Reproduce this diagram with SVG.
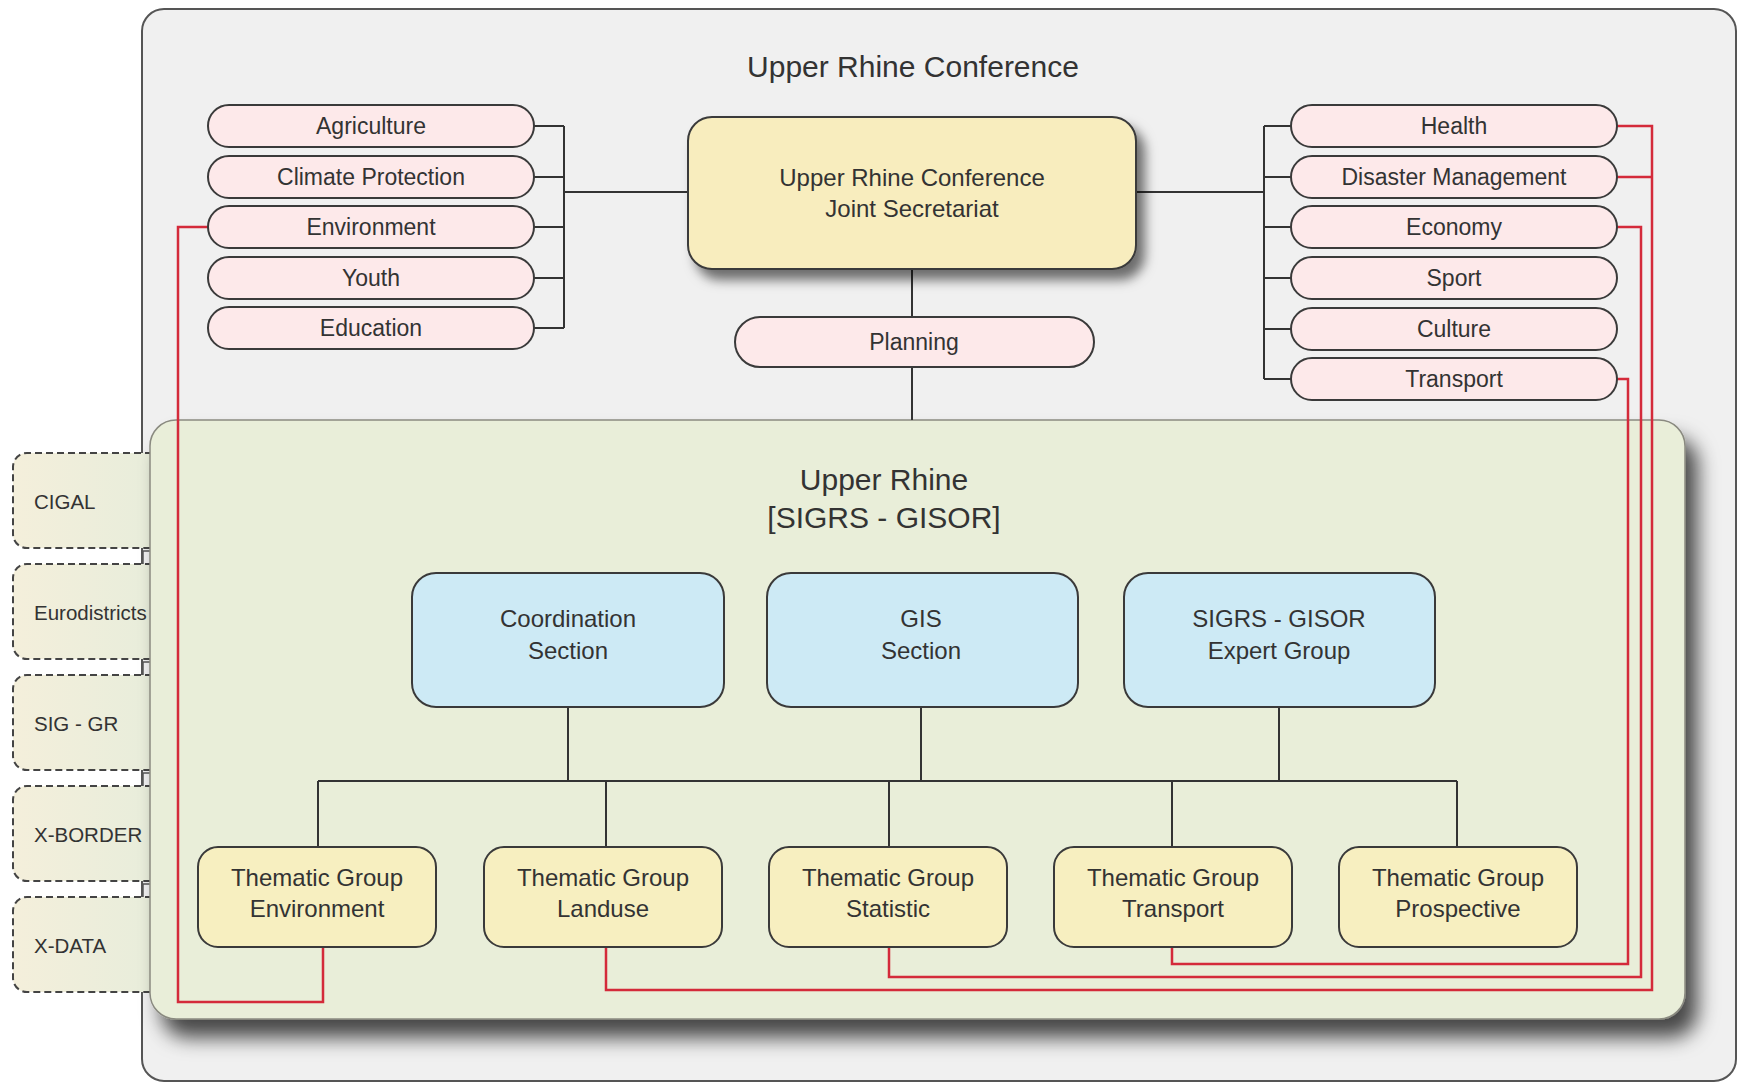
<svg xmlns="http://www.w3.org/2000/svg" width="1740" height="1084" viewBox="0 0 1740 1084">
<defs>
<style>
text{font-family:"Liberation Sans",Arial,sans-serif;fill:#333;text-anchor:middle}
.pill{fill:#fde9ea;stroke:#3a3a3a;stroke-width:2}
.blue{fill:#cdeaf5;stroke:#3a3a3a;stroke-width:2}
.tg{fill:#f7efc0;stroke:#3a3a3a;stroke-width:2}
.dash{stroke:#444;stroke-width:2;stroke-dasharray:7,4}
.ln{fill:none;stroke:#333;stroke-width:2}
.red{fill:none;stroke:#d42a3a;stroke-width:2.5}
.t23{font-size:23px}
.t24{font-size:24px}
.t31{font-size:30px}
.small{font-size:20.5px;text-anchor:start}
</style>
<linearGradient id="dg" x1="0" y1="0" x2="1" y2="0">
<stop offset="0" stop-color="#f4efdb"/>
<stop offset="1" stop-color="#e8eddb"/>
</linearGradient>
<filter id="sh" x="-10%" y="-10%" width="130%" height="140%">
<feDropShadow dx="8" dy="10" stdDeviation="6" flood-color="#000" flood-opacity="0.55"/>
</filter>
<filter id="sh2" x="-5%" y="-5%" width="115%" height="125%">
<feDropShadow dx="12" dy="18" stdDeviation="10" flood-color="#000" flood-opacity="0.7"/>
</filter>
</defs>

<g id="outer">
<rect x="142" y="9" width="1594" height="1072" rx="22" fill="#f0f0f0" stroke="#555" stroke-width="2"/>
<text class="t31" x="913" y="77">Upper Rhine Conference</text>
</g>

<g id="side-boxes">
<g id="cigal"><path class="dash" fill="url(#dg)" d="M152,453 H27 A14,14 0 0 0 13,467 V534 A14,14 0 0 0 27,548 H152"/><text class="small" x="34" y="509">CIGAL</text></g>
<g id="eurodistricts"><path class="dash" fill="url(#dg)" d="M152,564 H27 A14,14 0 0 0 13,578 V645 A14,14 0 0 0 27,659 H152"/><text class="small" x="34" y="620">Eurodistricts</text></g>
<g id="siggr"><path class="dash" fill="url(#dg)" d="M152,675 H27 A14,14 0 0 0 13,689 V756 A14,14 0 0 0 27,770 H152"/><text class="small" x="34" y="731">SIG - GR</text></g>
<g id="xborder"><path class="dash" fill="url(#dg)" d="M152,786 H27 A14,14 0 0 0 13,800 V867 A14,14 0 0 0 27,881 H152"/><text class="small" x="34" y="842">X-BORDER</text></g>
<g id="xdata"><path class="dash" fill="url(#dg)" d="M152,897 H27 A14,14 0 0 0 13,911 V978 A14,14 0 0 0 27,992 H152"/><text class="small" x="34" y="953">X-DATA</text></g>
<path fill="none" stroke="#555" stroke-width="1.5" d="M151,564 V551 H143 V564 M151,675 V662 H143 V675 M151,786 V773 H143 V786 M151,897 V884 H143 V897"/>
</g>

<g id="green-box">
<rect x="150" y="420" width="1535" height="599" rx="26" fill="#e9eed9" stroke="#8a8a80" stroke-width="1.5" filter="url(#sh2)"/>
<text class="t31" x="884" y="490">Upper Rhine</text>
<text class="t31" x="884" y="528">[SIGRS - GISOR]</text>
</g>

<g id="connectors">
<path class="ln" d="M534,126 H564 M534,177 H564 M534,227 H564 M534,278 H564 M534,328 H564 M564,126 V328 M564,192 H688"/>
<path class="ln" d="M1136,192 H1264 M1264,126 V379 M1264,126 H1291 M1264,177 H1291 M1264,227 H1291 M1264,278 H1291 M1264,329 H1291 M1264,379 H1291"/>
<path class="ln" d="M912,269 V317 M912,367 V420"/>
<path class="ln" d="M568,707 V781 M921,707 V781 M1279,707 V781 M318,781 H1457 M318,781 V847 M606,781 V847 M889,781 V847 M1172,781 V847 M1457,781 V847"/>
<path class="red" d="M208,227 H178 V1002 H323 V947"/>
<path class="red" d="M606,947 V990 H1652 V126 H1617 M1652,177 H1617"/>
<path class="red" d="M889,947 V977 H1641 V227 H1617"/>
<path class="red" d="M1172,947 V964 H1628 V379 H1617"/>
</g>

<g id="secretariat">
<rect x="688" y="117" width="448" height="152" rx="24" fill="#f8edbe" stroke="#3a3a3a" stroke-width="2" filter="url(#sh)"/>
<text class="t24" x="912" y="186">Upper Rhine Conference</text>
<text class="t24" x="912" y="217">Joint Secretariat</text>
</g>

<g id="planning"><rect class="pill" x="735" y="317" width="359" height="50" rx="25"/><text class="t23" x="914" y="350">Planning</text></g>

<g id="agriculture"><rect class="pill" x="208" y="105" width="326" height="42" rx="21"/><text class="t23" x="371" y="134">Agriculture</text></g>
<g id="climate"><rect class="pill" x="208" y="156" width="326" height="42" rx="21"/><text class="t23" x="371" y="185">Climate Protection</text></g>
<g id="environment"><rect class="pill" x="208" y="206" width="326" height="42" rx="21"/><text class="t23" x="371" y="235">Environment</text></g>
<g id="youth"><rect class="pill" x="208" y="257" width="326" height="42" rx="21"/><text class="t23" x="371" y="286">Youth</text></g>
<g id="education"><rect class="pill" x="208" y="307" width="326" height="42" rx="21"/><text class="t23" x="371" y="336">Education</text></g>

<g id="health"><rect class="pill" x="1291" y="105" width="326" height="42" rx="21"/><text class="t23" x="1454" y="134">Health</text></g>
<g id="disaster"><rect class="pill" x="1291" y="156" width="326" height="42" rx="21"/><text class="t23" x="1454" y="185">Disaster Management</text></g>
<g id="economy"><rect class="pill" x="1291" y="206" width="326" height="42" rx="21"/><text class="t23" x="1454" y="235">Economy</text></g>
<g id="sport"><rect class="pill" x="1291" y="257" width="326" height="42" rx="21"/><text class="t23" x="1454" y="286">Sport</text></g>
<g id="culture"><rect class="pill" x="1291" y="308" width="326" height="42" rx="21"/><text class="t23" x="1454" y="337">Culture</text></g>
<g id="transport"><rect class="pill" x="1291" y="358" width="326" height="42" rx="21"/><text class="t23" x="1454" y="387">Transport</text></g>

<g id="coordination"><rect class="blue" x="412" y="573" width="312" height="134" rx="24"/><text class="t24" x="568" y="627">Coordination</text><text class="t24" x="568" y="659">Section</text></g>
<g id="gis"><rect class="blue" x="767" y="573" width="311" height="134" rx="24"/><text class="t24" x="921" y="627">GIS</text><text class="t24" x="921" y="659">Section</text></g>
<g id="expert"><rect class="blue" x="1124" y="573" width="311" height="134" rx="24"/><text class="t24" x="1279" y="627">SIGRS - GISOR</text><text class="t24" x="1279" y="659">Expert Group</text></g>

<g id="tg-environment"><rect class="tg" x="198" y="847" width="238" height="100" rx="20"/><text class="t24" x="317" y="886">Thematic Group</text><text class="t24" x="317" y="917">Environment</text></g>
<g id="tg-landuse"><rect class="tg" x="484" y="847" width="238" height="100" rx="20"/><text class="t24" x="603" y="886">Thematic Group</text><text class="t24" x="603" y="917">Landuse</text></g>
<g id="tg-statistic"><rect class="tg" x="769" y="847" width="238" height="100" rx="20"/><text class="t24" x="888" y="886">Thematic Group</text><text class="t24" x="888" y="917">Statistic</text></g>
<g id="tg-transport"><rect class="tg" x="1054" y="847" width="238" height="100" rx="20"/><text class="t24" x="1173" y="886">Thematic Group</text><text class="t24" x="1173" y="917">Transport</text></g>
<g id="tg-prospective"><rect class="tg" x="1339" y="847" width="238" height="100" rx="20"/><text class="t24" x="1458" y="886">Thematic Group</text><text class="t24" x="1458" y="917">Prospective</text></g>
</svg>
